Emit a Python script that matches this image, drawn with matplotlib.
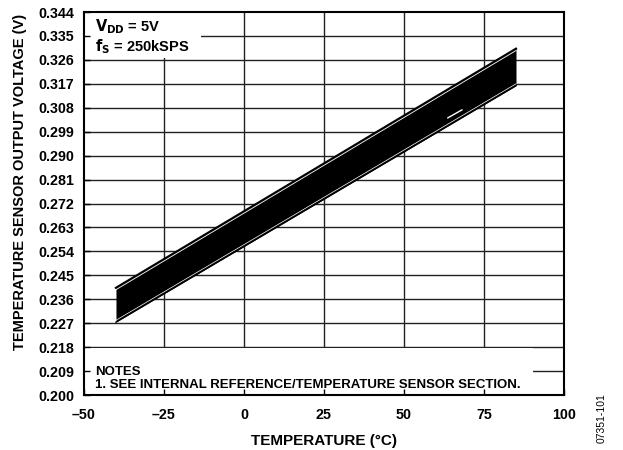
import numpy as np
import matplotlib.pyplot as plt
from matplotlib.patches import Rectangle
from matplotlib.font_manager import FontProperties

plt.rcParams['font.family'] = ['Liberation Sans', 'DejaVu Sans']
plt.rcParams['font.weight'] = 'bold'
plt.rcParams['axes.labelweight'] = 'bold'

# data
temps = [-40, 85]
v_top_line = [0.2403, 0.3302]
v_top_white = [0.2396, 0.3295]
v_band_lo = [0.2274, 0.3163]
v_low_white = [0.2281, 0.3170]
dash_t = [63.7, 68.1]
dash_v = [0.3042, 0.3072]

xticks = [-50, -25, 0, 25, 50, 75, 100]
xticklabels = ['\u201350', '\u201325', '0', '25', '50', '75', '100']
yticks = [0.200, 0.209, 0.218, 0.227, 0.236, 0.245, 0.254, 0.263, 0.272,
          0.281, 0.290, 0.299, 0.308, 0.317, 0.326, 0.335, 0.344]

fp_tick = FontProperties(family='Liberation Sans', weight='bold', size=10.3)

fig = plt.figure(figsize=(6.23, 4.5), dpi=100)
ax = fig.add_axes([0.1348, 0.1222, 0.7705, 0.8511])
ax.set_xlim(-50, 100)
ax.set_ylim(0.200, 0.344)

# grid drawn by hand so the text boxes can cover it
for y in yticks[1:-1]:
    ax.axhline(y, color='#222222', lw=1.0, zorder=0.8)
for x in xticks[1:-1]:
    ax.axvline(x, color='#222222', lw=1.0, zorder=0.8)

# white boxes behind the annotations
ax.add_patch(Rectangle((-50, 0.3268), 36.6, 0.02, facecolor='white',
                       edgecolor='none', zorder=1))
ax.add_patch(Rectangle((-50, 0.1995), 140.3, 0.0182, facecolor='white',
                       edgecolor='none', zorder=1))

# band of sensor curves
ax.fill_between(temps, v_band_lo, v_top_line, color='black', lw=0, zorder=2)
ax.plot(temps, v_top_line, color='black', lw=1.6, zorder=2)
ax.plot(temps, v_band_lo, color='black', lw=1.0, zorder=2)
ax.plot(temps, v_top_white, color='white', lw=0.6, zorder=3)
ax.plot(temps, v_low_white, color='white', lw=0.5, zorder=3)
ax.plot(dash_t, dash_v, color='white', lw=1.0, zorder=3)

ax.set_xticks(xticks)
ax.set_xticklabels(xticklabels, fontproperties=fp_tick)
ax.set_yticks(yticks)
ax.set_yticklabels(['%.3f' % y for y in yticks], fontproperties=fp_tick)
ax.tick_params(direction='in', length=4, width=1)
ax.tick_params(axis='x', pad=9)
ax.tick_params(axis='y', pad=7)
for s in ax.spines.values():
    s.set_linewidth(1.5)

ax.set_xlabel('TEMPERATURE (\u00b0C)', fontsize=11, fontweight='bold', labelpad=9)
ax.set_ylabel('TEMPERATURE SENSOR OUTPUT VOLTAGE (V)', fontsize=10.5,
              fontweight='bold')
ax.yaxis.set_label_coords(-0.118, 0.557)

ax.text(-46.5, 0.3385, '$\\mathbf{V_{DD}}$ = 5V', fontsize=10.5, fontweight='bold',
        va='center', zorder=4)
ax.text(-46.5, 0.3308, '$\\mathbf{f_S}$ = 250kSPS', fontsize=10.5, fontweight='bold',
        va='center', zorder=4)
ax.text(-46.5, 0.2086, 'NOTES', fontsize=9.5, fontweight='bold', va='center', zorder=4)
ax.text(-46.5, 0.2036, '1. SEE INTERNAL REFERENCE/TEMPERATURE SENSOR SECTION.',
        fontsize=9.5, fontweight='bold', va='center', zorder=4)

fig.text(0.966, 0.071, '07351-101', rotation=90, fontsize=7.5, fontweight='normal',
         ha='center', va='center')

fig.savefig('out.png', dpi=100)
